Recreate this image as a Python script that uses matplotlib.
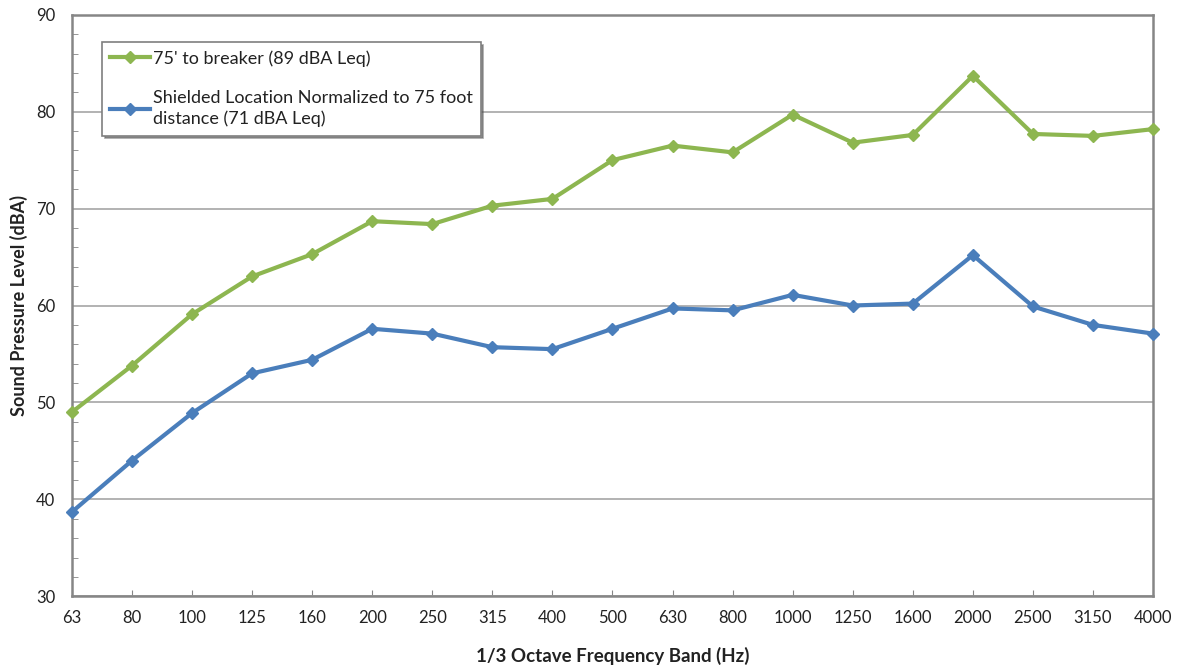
import matplotlib
matplotlib.use("Agg")
import matplotlib.pyplot as plt
from matplotlib.ticker import MultipleLocator

bands = ["63", "80", "100", "125", "160", "200", "250", "315", "400", "500", "630",
         "800", "1000", "1250", "1600", "2000", "2500", "3150", "4000"]
breaker = [49.0, 53.8, 59.1, 63.0, 65.3, 68.7, 68.4, 70.3, 71.0, 75.0, 76.5,
           75.8, 79.7, 76.8, 77.6, 83.7, 77.7, 77.5, 78.2]
shielded = [38.7, 44.0, 48.9, 53.0, 54.4, 57.6, 57.1, 55.7, 55.5, 57.6, 59.7,
            59.5, 61.1, 60.0, 60.2, 65.2, 59.9, 58.0, 57.1]
labels = ["75' to breaker (89 dBA Leq)",
          "Shielded Location Normalized to 75 foot\ndistance (71 dBA Leq)"]

plt.rcParams['font.family'] = ['Lato', 'DejaVu Sans']

fig = plt.figure(figsize=(11.79, 6.70), dpi=100)
ax = fig.add_axes([0.061, 0.110, 0.917, 0.868])

x = list(range(len(bands)))
green = "#8DB650"
blue = "#4A7EBB"
ax.plot(x, breaker, color=green, lw=3, marker="D", ms=6, label=labels[0], zorder=3, clip_on=False)
ax.plot(x, shielded, color=blue, lw=3, marker="D", ms=6, label=labels[1], zorder=3, clip_on=False)

ax.set_xlim(0, len(bands) - 1)
ax.set_ylim(30, 90)
ax.set_xticks(x)
ax.set_xticklabels(bands)
ax.yaxis.set_major_locator(MultipleLocator(10))
ax.yaxis.set_minor_locator(MultipleLocator(2))
ax.grid(axis="y", which="major", color="#A6A6A6", lw=1.2)
ax.set_axisbelow(True)

for s in ax.spines.values():
    s.set_color("#868686")
    s.set_linewidth(1.8)

ax.tick_params(axis="x", direction="in", length=4, color="#868686", labelsize=12, pad=10, labelcolor="#222222")
ax.tick_params(axis="y", which="major", length=0, labelsize=12, pad=12, labelcolor="#222222")
ax.tick_params(axis="y", which="minor", direction="in", length=4, color="#868686")

ax.set_xlabel("1/3 Octave Frequency Band (Hz)", fontsize=13.5, fontweight="bold", labelpad=15, color="#222222")
ax.set_ylabel("Sound Pressure Level (dBA)", fontsize=13, fontweight="bold", labelpad=6, color="#222222")

leg = ax.legend(loc="upper left", bbox_to_anchor=(102 / 1179, 1 - 42 / 670),
                bbox_transform=fig.transFigure, fontsize=13, frameon=True,
                fancybox=False, shadow=True, handlelength=2.2, handletextpad=0.15,
                labelspacing=1.3, borderpad=0.45, borderaxespad=0, alignment="left")
leg.get_frame().set_edgecolor("#7F7F7F")
leg.get_frame().set_linewidth(1.2)
for t in leg.get_texts():
    t.set_color("#222222")
    t.set_linespacing(1.35)

fig.savefig("out.png", dpi=100)
